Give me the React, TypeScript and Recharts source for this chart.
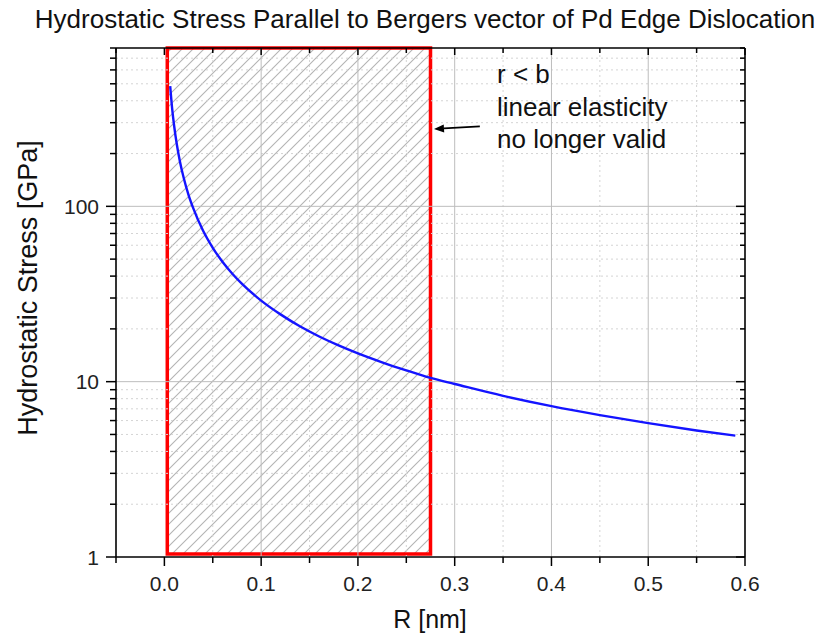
// Hydrostatic stress vs. distance from a Pd edge dislocation core, log y axis,
// with the hatched r < b region where linear elasticity stops being valid.
import {
  ComposedChart,
  Line,
  ReferenceArea,
  ReferenceLine,
  XAxis,
  YAxis,
} from "recharts";

// Distance from the core [nm] and the read-off stress [GPa].
const rValues = [
  0.006, 0.008, 0.01, 0.013, 0.016, 0.02, 0.025, 0.03, 0.04, 0.05, 0.06, 0.07, 0.08, 0.1,
  0.12, 0.14, 0.16, 0.18, 0.2, 0.225, 0.25, 0.275, 0.3, 0.35, 0.4, 0.45, 0.5, 0.55, 0.59,
];
const stressValues = [
  485, 362, 290, 223, 181, 145, 116, 97, 72.5, 58, 48.3, 41.4, 36.2, 29,
  24.2, 20.7, 18.1, 16.1, 14.5, 12.9, 11.6, 10.5, 9.7, 8.3, 7.25, 6.45, 5.8, 5.27, 4.92,
];

const xDomain = [-0.05, 0.6];
const yDomain = [1, 800];
const xMajorTicks = [0, 0.1, 0.2, 0.3, 0.4, 0.5, 0.6];
const xMinorTicks = [-0.05, 0.05, 0.15, 0.25, 0.35, 0.45, 0.55];
const yMajorTicks = [1, 10, 100];
const yMinorTicks = [2, 3, 4, 5, 6, 7, 8, 9, 20, 30, 40, 50, 60, 70, 80, 90, 200, 300, 400, 500, 600, 700, 800];
const xGridMajor = [0.1, 0.2, 0.3, 0.4, 0.5];
const xGridMinor = [0.05, 0.15, 0.25, 0.35, 0.45, 0.55];
const yGridMajor = [10, 100];
const yGridMinor = [2, 3, 4, 5, 6, 7, 8, 9, 20, 30, 40, 50, 60, 70, 80, 90, 200, 300, 400, 500, 600, 700];

// invalid region r < b, and the arrow pointing at its edge
const invalidRegion = { r1: 0.003, r2: 0.275, s1: 1.04, s2: 800 };
const arrowTail = { r: 0.326, s: 286 };
const arrowHead = { r: 0.2786, s: 276 };
const noteLines = ["r < b", "linear elasticity", "no longer valid"];

const rows = rValues.map((r, i) => ({ r, s: stressValues[i] }));

const FONT = "'Liberation Sans', Arial, sans-serif";
const xTicks = [...xMajorTicks, ...xMinorTicks].sort((a, b) => a - b);
const yTicks = [...yMajorTicks, ...yMinorTicks].sort((a, b) => a - b);

const isMajorX = (v: number) => Math.abs(v * 10 - Math.round(v * 10)) < 1e-6;
const isMajorY = (v: number) => Math.abs(Math.log10(v) - Math.round(Math.log10(v))) < 1e-6;

function BottomTick({ x, y, payload }: any) {
  const major = isMajorX(payload.value);
  return (
    <g>
      <line x1={x} x2={x} y1={y} y2={y + (major ? 9 : 6)} stroke="#000" strokeWidth={1.5} />
      {major && (
        <text x={x} y={y + 34} textAnchor="middle" fontSize={21} fontFamily={FONT} fill="#222">
          {payload.value.toFixed(1)}
        </text>
      )}
    </g>
  );
}

function TopTick({ x, y, payload }: any) {
  const major = isMajorX(payload.value);
  return <line x1={x} x2={x} y1={y} y2={y + (major ? 7 : 5)} stroke="#000" strokeWidth={1.5} />;
}

function LeftTick({ x, y, payload }: any) {
  const major = isMajorY(payload.value);
  return (
    <g>
      <line x1={x} x2={x - (major ? 10 : 6)} y1={y} y2={y} stroke="#000" strokeWidth={1.5} />
      {major && (
        <text x={x - 17} y={y} dy="0.36em" textAnchor="end" fontSize={21} fontFamily={FONT} fill="#222">
          {payload.value}
        </text>
      )}
    </g>
  );
}

function RightTick({ x, y, payload }: any) {
  const major = isMajorY(payload.value);
  return <line x1={x} x2={x - (major ? 9 : 5)} y1={y} y2={y} stroke="#000" strokeWidth={1.5} />;
}

function Arrow(props: any) {
  const { x1, y1, x2, y2 } = props;
  const ang = Math.atan2(y2 - y1, x2 - x1);
  const len = 10;
  const w = 4;
  const bx = x2 - len * Math.cos(ang);
  const by = y2 - len * Math.sin(ang);
  const nx = -Math.sin(ang) * w;
  const ny = Math.cos(ang) * w;
  return (
    <g>
      <line x1={x1} y1={y1} x2={bx} y2={by} stroke="#000" strokeWidth={1.8} />
      <path d={`M${x2},${y2} L${bx + nx},${by + ny} L${bx - nx},${by - ny} Z`} fill="#000" />
    </g>
  );
}

export default function App() {
  return (
    <div style={{ position: "absolute", left: 0, top: 0, width: 828, height: 636, background: "#fff" }}>
      <ComposedChart width={828} height={636} data={rows} margin={{ top: 48, right: 83, bottom: 78, left: 115 }}>
        <defs>
          <pattern id="hatch" patternUnits="userSpaceOnUse" width={11} height={11}>
            <path d="M0,11 L11,0 M-2,2 L2,-2 M9,13 L13,9" stroke="#b4b4b4" strokeWidth={1.1} />
          </pattern>
        </defs>
        <XAxis
          dataKey="r"
          type="number"
          domain={xDomain}
          allowDataOverflow
          ticks={xTicks}
          interval={0}
          height={1}
          tickSize={0}
          tickMargin={0}
          tickLine={false}
          axisLine={{ stroke: "#000", strokeWidth: 1.6 }}
          tick={(p: any) => <BottomTick {...p} />}
        />
        <XAxis
          xAxisId="top"
          dataKey="r"
          type="number"
          orientation="top"
          mirror
          domain={xDomain}
          allowDataOverflow
          ticks={xTicks}
          interval={0}
          height={1}
          tickSize={0}
          tickMargin={0}
          tickLine={false}
          axisLine={{ stroke: "#000", strokeWidth: 1.6 }}
          tick={(p: any) => <TopTick {...p} />}
        />
        <YAxis
          type="number"
          scale="log"
          domain={yDomain}
          allowDataOverflow
          ticks={yTicks}
          interval={0}
          width={1}
          tickSize={0}
          tickMargin={0}
          tickLine={false}
          axisLine={{ stroke: "#000", strokeWidth: 1.6 }}
          tick={(p: any) => <LeftTick {...p} />}
        />
        <YAxis
          yAxisId="right"
          type="number"
          scale="log"
          orientation="right"
          mirror
          domain={yDomain}
          allowDataOverflow
          ticks={yTicks}
          interval={0}
          width={1}
          tickSize={0}
          tickMargin={0}
          tickLine={false}
          axisLine={{ stroke: "#000", strokeWidth: 1.6 }}
          tick={(p: any) => <RightTick {...p} />}
        />
        {xGridMinor.map((v) => (
          <ReferenceLine key={`xm${v}`} x={v} stroke="#d4d4d4" strokeDasharray="2 3" />
        ))}
        {yGridMinor.map((v) => (
          <ReferenceLine key={`ym${v}`} y={v} stroke="#d4d4d4" strokeDasharray="2 3" />
        ))}
        {xGridMajor.map((v) => (
          <ReferenceLine key={`xM${v}`} x={v} stroke="#bdbdbd" />
        ))}
        {yGridMajor.map((v) => (
          <ReferenceLine key={`yM${v}`} y={v} stroke="#bdbdbd" />
        ))}
        <ReferenceArea
          x1={invalidRegion.r1}
          x2={invalidRegion.r2}
          y1={invalidRegion.s1}
          y2={invalidRegion.s2}
          fill="url(#hatch)"
          fillOpacity={1}
          stroke="#ff0000"
          strokeWidth={3.5}
          ifOverflow="visible"
        />
        <Line
          type="monotone"
          dataKey="s"
          stroke="#1414ff"
          strokeWidth={2.4}
          dot={false}
          isAnimationActive={false}
        />
        <ReferenceLine
          segment={[
            { x: arrowTail.r, y: arrowTail.s },
            { x: arrowHead.r, y: arrowHead.s },
          ]}
          ifOverflow="visible"
          shape={(p: any) => <Arrow {...p} />}
        />
      </ComposedChart>
      <svg
        width={828}
        height={636}
        style={{ position: "absolute", left: 0, top: 0, pointerEvents: "none" }}
        fontFamily={FONT}
        fill="#111"
      >
        <text x={425} y={28} fontSize={26} textAnchor="middle">
          Hydrostatic Stress Parallel to Bergers vector of Pd Edge Dislocation
        </text>
        <text x={430} y={628} fontSize={25} textAnchor="middle">
          R [nm]
        </text>
        <text transform="translate(37,288) rotate(-90)" fontSize={27} textAnchor="middle">
          Hydrostatic Stress [GPa]
        </text>
        {noteLines.map((t, i) => (
          <text key={t} x={497} y={83 + i * 32.5} fontSize={26}>
            {t}
          </text>
        ))}
      </svg>
    </div>
  );
}
